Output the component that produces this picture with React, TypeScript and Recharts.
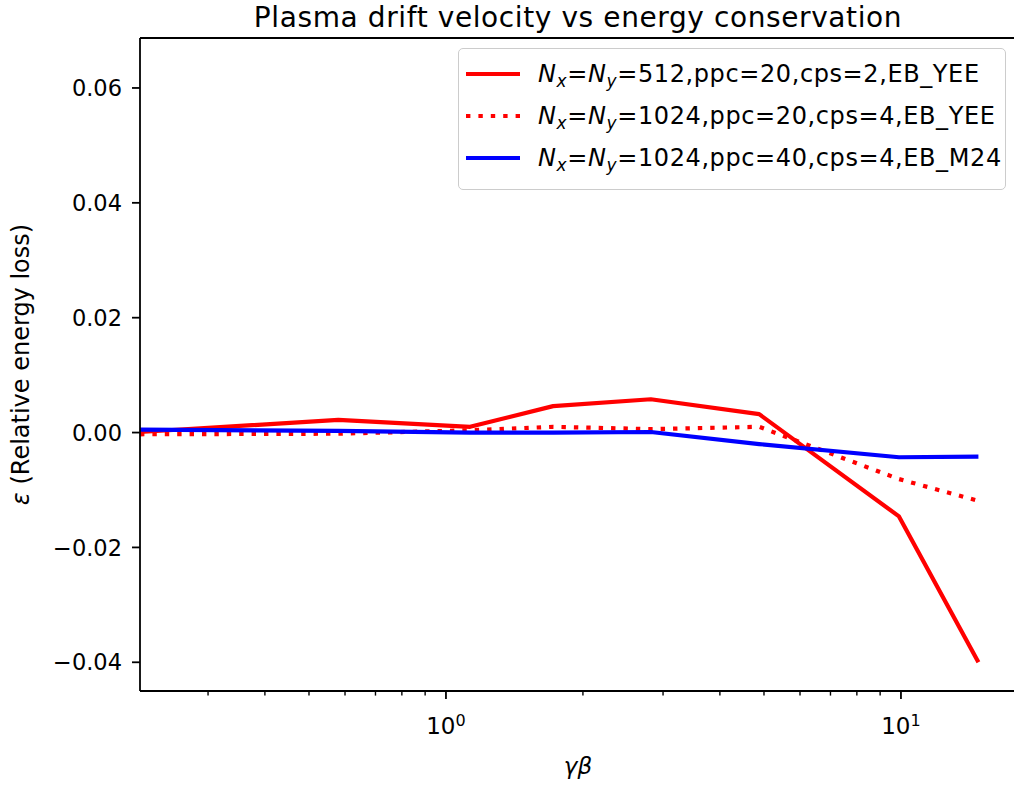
import React from 'react';
import { LineChart, Line, XAxis, YAxis, Legend, ReferenceLine } from 'recharts';

// gamma*beta (x) values
const gammaBeta = [0.2126, 0.58, 1.13, 1.72, 2.82, 4.88, 9.9, 14.8];
// relative energy loss for each run
const eps512ppc20Yee = [0.0001, 0.0022, 0.001, 0.0046, 0.0058, 0.0032, -0.0146, -0.04];
const eps1024ppc20Yee = [-0.0003, -0.0002, 0.0004, 0.001, 0.0006, 0.001, -0.0081, -0.0119];
const eps1024ppc40M24 = [0.0005, 0.0003, 0.0, 0.0, 0.0001, -0.002, -0.0043, -0.0042];

const xMajorTicks = [1, 10];
const xMinorTicks = [0.3, 0.4, 0.5, 0.6, 0.7, 0.8, 0.9, 2, 3, 4, 5, 6, 7, 8, 9];
const yTicks = [-0.04, -0.02, 0, 0.02, 0.04, 0.06];
const xDomain = [0.2126, 17.9];
const yDomain = [-0.045, 0.0687];

const titleText = 'Plasma drift velocity vs energy conservation';
const xLabelText = 'γβ';
const yLabelText = ' (Relative energy loss)';
const legendSuffixes = [
  '512,ppc=20,cps=2,EB_YEE',
  '1024,ppc=20,cps=4,EB_YEE',
  '1024,ppc=40,cps=4,EB_M24',
];
const seriesColors = ['#ff0000', '#ff0000', '#0000ff'];
const seriesDash = [undefined, '4.4 8', undefined];
const seriesKeys = ['a', 'b', 'c'];

const data = gammaBeta.map((x, i) => ({
  x,
  a: eps512ppc20Yee[i],
  b: eps1024ppc20Yee[i],
  c: eps1024ppc40M24[i],
}));

const FONT = 'DejaVu Sans';

const XTick = (props: any) => {
  const { x, y, payload } = props;
  const v = payload.value;
  const major = xMajorTicks.includes(v);
  return (
    <g>
      <line x1={x} x2={x} y1={y} y2={y + (major ? 8 : 4.6)} stroke="#000" strokeWidth={major ? 1.8 : 1.4} />
      {major && (
        <text x={x} y={y + 43} textAnchor="middle" fontSize={23} fill="#000" fontFamily={FONT}>
          10
          <tspan dy={-8} fontSize={16}>{Math.round(Math.log10(v))}</tspan>
        </text>
      )}
    </g>
  );
};

const fmtY = (v: number) => {
  const s = Math.abs(v) < 1e-9 ? '0.00' : v.toFixed(2);
  return s.replace('-', '\u2212');
};

const YTick = (props: any) => {
  const { x, y, payload } = props;
  return (
    <g>
      <line x1={x - 8} x2={x} y1={y} y2={y} stroke="#000" strokeWidth={1.8} />
      <text x={x - 18} y={y} dy="0.365em" textAnchor="end" fontSize={22.5} fill="#000" fontFamily={FONT}>
        {fmtY(payload.value)}
      </text>
    </g>
  );
};

const subStyle: React.CSSProperties = {
  fontSize: 17,
  fontStyle: 'italic',
  position: 'relative',
  top: 5,
};

const LegendBox = () => (
  <div
    style={{
      width: 548,
      height: 142,
      boxSizing: 'border-box',
      border: '1.5px solid #cccccc',
      borderRadius: 5,
      background: 'rgba(255,255,255,0.8)',
      position: 'relative',
      fontFamily: FONT,
      fontSize: 24,
      letterSpacing: 0.6,
      color: '#000',
    }}
  >
    {legendSuffixes.map((s, i) => (
      <div
        key={i}
        style={{
          position: 'absolute',
          left: 0,
          top: 25 + 42 * i - 20,
          height: 40,
          display: 'flex',
          alignItems: 'center',
          whiteSpace: 'nowrap',
        }}
      >
        <svg width={79} height={40} style={{ display: 'block' }}>
          <line
            x1={7}
            x2={61}
            y1={20}
            y2={20}
            stroke={seriesColors[i]}
            strokeWidth={4.2}
            strokeDasharray={seriesDash[i]}
          />
        </svg>
        <span>
          <i>N</i>
          <span style={subStyle}>x</span>=
          <i>N</i>
          <span style={subStyle}>y</span>={s}
        </span>
      </div>
    ))}
  </div>
);

export default function App() {
  return (
    <div
      style={{
        position: 'absolute',
        left: 0,
        top: 0,
        width: 1014,
        height: 787,
        overflow: 'hidden',
        background: '#fff',
        fontFamily: FONT,
      }}
    >
      <LineChart width={1040} height={787} data={data} margin={{ top: 38, right: 24, bottom: 0, left: 0 }}>
        <XAxis
          dataKey="x"
          type="number"
          scale="log"
          domain={xDomain}
          allowDataOverflow
          ticks={[...xMinorTicks, ...xMajorTicks]}
          interval={0}
          tick={<XTick />}
          tickLine={false}
          tickSize={0}
          tickMargin={0}
          height={96}
          axisLine={{ stroke: '#000', strokeWidth: 1.8 }}
          label={(p: any) => {
            const vb = p.viewBox || { x: 140, y: 691, width: 876 };
            return (
              <text
                x={vb.x + vb.width / 2}
                y={vb.y + 83}
                textAnchor="middle"
                fontSize={23}
                fontStyle="italic"
                fontFamily={FONT}
                fill="#000"
              >
                {xLabelText}
              </text>
            );
          }}
        />
        <YAxis
          type="number"
          domain={yDomain}
          allowDataOverflow
          ticks={yTicks}
          interval={0}
          width={140}
          tick={<YTick />}
          tickLine={false}
          tickSize={0}
          tickMargin={0}
          axisLine={{ stroke: '#000', strokeWidth: 1.8 }}
          label={(p: any) => {
            const vb = p.viewBox || { x: 0, y: 38, width: 140, height: 653 };
            const cx = 20;
            const cy = vb.y + vb.height / 2;
            return (
              <text
                x={cx}
                y={cy}
                dy="0.36em"
                textAnchor="middle"
                fontSize={24}
                fontFamily={FONT}
                fill="#000"
                transform={`rotate(-90 ${cx} ${cy})`}
              >
                <tspan fontStyle="italic">ε</tspan>
                {yLabelText}
              </text>
            );
          }}
        />
        <ReferenceLine
          y={yDomain[1]}
          stroke="#000"
          strokeWidth={1.8}
          label={() => (
            <text
              x={578}
              y={27}
              textAnchor="middle"
              fontSize={28}
              letterSpacing={0.6}
              fontFamily={FONT}
              fill="#000"
            >
              {titleText}
            </text>
          )}
        />
        <Legend
          layout="vertical"
          align="center"
          verticalAlign="middle"
          content={() => <LegendBox />}
          wrapperStyle={{ position: 'absolute', left: 458, top: 48, width: 548, height: 142 }}
        />
        {seriesKeys.map((k, i) => (
          <Line
            key={k}
            dataKey={k}
            type="linear"
            stroke={seriesColors[i]}
            strokeWidth={4.2}
            strokeDasharray={seriesDash[i]}
            strokeLinejoin="round"
            dot={false}
            activeDot={false}
            isAnimationActive={false}
          />
        ))}
      </LineChart>
    </div>
  );
}
